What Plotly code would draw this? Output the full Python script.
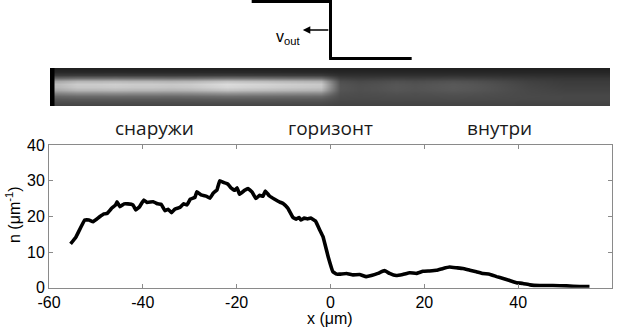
import plotly.graph_objects as go

# ---- profile data ----
x_um = [-55.4, -54.3, -52.4, -51.5, -50.6, -49.2, -48.3, -47.6, -46.7, -45.8, -45.5, -44.9, -44.0, -43.2,
        -42.1, -41.5, -40.7, -39.8, -39.1, -37.8, -36.8, -36.1, -35.3, -34.6, -33.9, -33.2, -32.1, -31.3,
        -30.6, -29.9, -28.9, -28.5, -27.6, -26.4, -25.7, -25.0, -24.2, -23.6, -22.8, -21.9, -21.2, -20.4,
        -19.9, -19.4, -18.3, -17.6, -16.7, -15.9, -15.1, -14.4, -13.9, -13.0, -11.9, -10.8, -10.1, -9.1,
        -8.0, -7.3, -6.7, -6.3, -5.6, -4.9, -4.2, -3.2, -2.3, -1.6, -0.5, 0.5, 1.3, 1.95, 3.4, 4.8, 6.2,
        7.6, 8.7, 10.1, 11.5, 12.6, 14.0, 15.4, 16.9, 18.3, 19.7, 21.1, 22.6, 24.0, 25.4, 26.8, 28.2, 29.7,
        31.1, 32.5, 33.9, 35.4, 36.8, 38.2, 39.6, 41.0, 42.5, 44.6, 47.4, 50.3, 53.1, 55.2]
n_density = [12.3, 14.1, 19.0, 19.0, 18.5, 19.9, 20.7, 20.8, 22.2, 23.2, 24.1, 22.7, 23.5, 23.5, 23.2, 21.8,
             22.7, 24.6, 23.9, 24.1, 23.5, 23.4, 21.6, 22.0, 21.0, 22.0, 22.5, 23.5, 23.2, 24.8, 25.3, 26.9,
             26.0, 25.6, 25.1, 26.5, 27.4, 30.0, 29.5, 29.1, 28.0, 27.3, 28.0, 26.2, 27.3, 27.8, 26.8, 25.0,
             25.9, 25.6, 27.1, 25.7, 24.8, 24.0, 23.6, 22.3, 19.7, 19.2, 19.7, 19.0, 19.5, 19.3, 19.5, 18.7,
             16.2, 14.3, 8.7, 4.5, 3.8, 3.8, 4.0, 3.6, 3.7, 3.1, 3.4, 4.0, 4.8, 4.0, 3.4, 3.7, 4.2, 4.0, 4.6,
             4.7, 4.9, 5.4, 5.8, 5.6, 5.4, 4.9, 4.5, 4.0, 3.8, 3.1, 2.6, 2.0, 1.4, 1.2, 0.8, 0.6, 0.6, 0.5,
             0.3, 0.3]
assert len(x_um) == len(n_density)

x_ticks = [-60, -40, -20, 0, 20, 40, 60]
x_tick_labels = ["-60", "-40", "-20", "0", "20", "40", "60"]
y_ticks = [0, 10, 20, 30, 40]
y_tick_labels = ["0", "10", "20", "30", "40"]

# ---- camera image strip (grey levels) ----
strip_x = [-58, -54, -50, -46, -42, -38, -34, -30, -26, -22, -18, -14, -10, -6, -2, 2, 6, 10, 14, 18,
           22, 26, 30, 34, 38, 42, 46, 50, 54, 58]
strip_col_brightness = [0.80, 0.90, 0.90, 0.92, 0.90, 0.90, 0.88, 0.90, 0.95, 1.00, 0.97, 0.95, 0.92,
                        0.90, 0.88, 0.14, 0.10, 0.12, 0.15, 0.13, 0.15, 0.17, 0.15, 0.12, 0.08, 0.04,
                        0.02, 0.0, 0.0, 0.0]
strip_band_rows = [0.0, 0.02, 0.10, 0.40, 0.85, 1.0, 0.95, 0.80, 0.50, 0.25, 0.12, 0.06, 0.02]
strip_bg_rows = [0.13, 0.15, 0.18, 0.21, 0.23, 0.24, 0.25, 0.26, 0.27, 0.28, 0.28, 0.27, 0.26]

region_labels = ["снаружи", "горизонт", "внутри"]
region_label_x = [-37.5, 0.0, 36.0]

z_strip = [[bg + band * cb * 0.62 for cb in strip_col_brightness]
           for bg, band in zip(strip_bg_rows, strip_band_rows)]

W, H = 620, 328


def px_x(p):
    return p / W


def px_y(p):
    return 1 - p / H


fig = go.Figure()

fig.add_trace(go.Heatmap(
    x=strip_x, y=list(range(len(strip_band_rows))), z=z_strip,
    colorscale=[[0, "#000000"], [1, "#ffffff"]], zmin=0, zmax=1, zsmooth="best",
    showscale=False, xaxis="x2", yaxis="y2", hoverinfo="skip"))

fig.add_trace(go.Scatter(
    x=x_um, y=n_density, mode="lines",
    line=dict(color="black", width=3.6, shape="spline", smoothing=0.2),
    xaxis="x", yaxis="y", showlegend=False))

axis_grey = "#8a8a8a"
tick_font = dict(family="Liberation Sans, Arial, sans-serif", size=16, color="black")

fig.update_layout(
    width=W, height=H, margin=dict(l=0, r=0, t=0, b=0),
    paper_bgcolor="white", plot_bgcolor="white", showlegend=False,
    xaxis=dict(domain=[px_x(49), px_x(612)], range=[-60, 60], tickvals=x_ticks, ticktext=x_tick_labels,
               ticks="inside", ticklen=4, tickcolor=axis_grey, showline=True, linecolor=axis_grey,
               linewidth=1, mirror="allticks", showgrid=False, zeroline=False, tickfont=tick_font,
               automargin=False, anchor="y"),
    yaxis=dict(domain=[px_y(287.7), px_y(145)], range=[0, 40], tickvals=y_ticks, ticktext=y_tick_labels,
               ticks="inside", ticklen=4, tickcolor=axis_grey, showline=True, linecolor=axis_grey,
               linewidth=1, mirror="allticks", showgrid=False, zeroline=False, tickfont=tick_font,
               automargin=False, anchor="x"),
    xaxis2=dict(domain=[px_x(50), px_x(610)], range=[-59.8, 59.5], visible=False, anchor="y2"),
    yaxis2=dict(domain=[px_y(106), px_y(68)], range=[-0.5, len(strip_band_rows) - 0.5],
                autorange="reversed", visible=False, anchor="x2"),
)

# black edge on the left of the strip
fig.add_shape(type="rect", xref="paper", yref="paper", x0=px_x(50), x1=px_x(54.5),
              y0=px_y(106), y1=px_y(68), fillcolor="black", line=dict(width=0))

# step schematic of the horizon (vertical edge at x = 0)
step_style = dict(color="black", width=3)
fig.add_shape(type="line", xref="x", yref="paper", x0=-16.8, x1=0.3, y0=px_y(1.5), y1=px_y(1.5),
              line=step_style)
fig.add_shape(type="line", xref="x", yref="paper", x0=0, x1=0, y0=px_y(0), y1=px_y(58.5),
              line=step_style)
fig.add_shape(type="line", xref="x", yref="paper", x0=-0.3, x1=17.3, y0=px_y(58.5), y1=px_y(58.5),
              line=step_style)
fig.add_annotation(x=-5.9, y=px_y(30), xref="x", yref="paper", ax=27, ay=0, text="",
                   showarrow=True, arrowhead=2, arrowsize=1, arrowwidth=1.5, arrowcolor="black")
fig.add_annotation(x=px_x(288), y=px_y(37), xref="paper", yref="paper", showarrow=False,
                   text="v<sub>out</sub>", xanchor="center", yanchor="middle",
                   font=dict(family="Liberation Sans, Arial, sans-serif", size=16, color="black"))

for lab, lx in zip(region_labels, region_label_x):
    fig.add_annotation(x=lx, y=px_y(128), xref="x", yref="paper", text=lab, showarrow=False,
                       xanchor="center", yanchor="middle",
                       font=dict(family="Open Sans, sans-serif", size=19, color="#1a1a1a"))

# axis titles
fig.add_annotation(x=px_x(330), y=px_y(318), xref="paper", yref="paper", text="x (μm)",
                   showarrow=False, xanchor="center", yanchor="middle",
                   font=dict(family="Liberation Sans, Arial, sans-serif", size=16, color="black"))
fig.add_annotation(x=px_x(13), y=px_y(215), xref="paper", yref="paper", text="n (μm<sup>-1</sup>)",
                   showarrow=False, xanchor="center", yanchor="middle", textangle=-90,
                   font=dict(family="Liberation Sans, Arial, sans-serif", size=16, color="black"))

fig.write_html("out.html", config={"displayModeBar": False, "staticPlot": True},
               post_script="document.body.style.margin='0';document.body.style.overflow='hidden';")
